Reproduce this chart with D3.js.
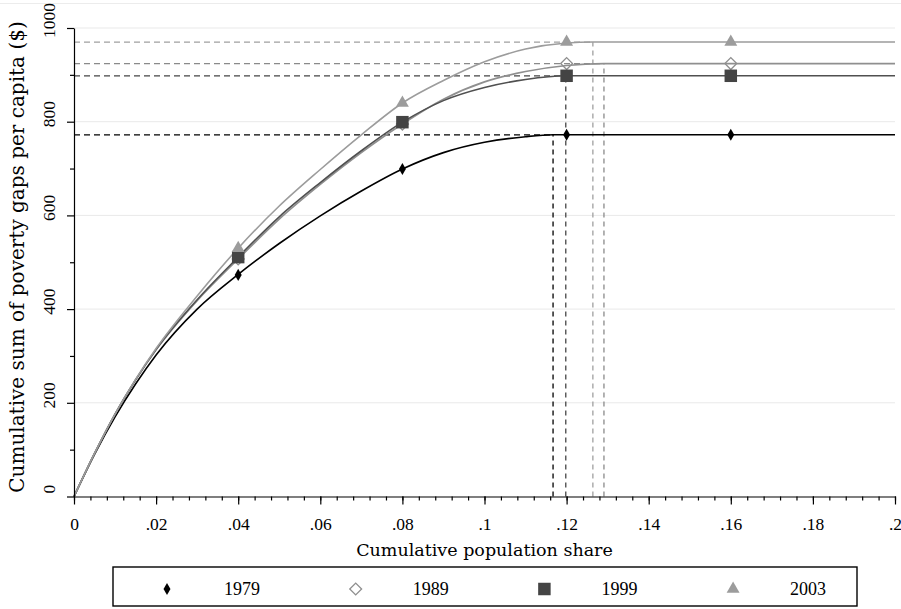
<!DOCTYPE html>
<html>
<head>
<meta charset="utf-8">
<script src="https://cdn.jsdelivr.net/npm/d3@7"></script>
<style>
  body { margin: 0; background: #fff; }
  svg { display: block; background: #fff; }
</style>
</head>
<body>
<svg class="tip-svg" width="901" height="609"></svg>
<script>
// TIP curves, one per year
const years = ['1979', '1989', '1999', '2003']
const curveShares = [0, 0.005, 0.01, 0.015, 0.02, 0.03, 0.04, 0.05, 0.06, 0.07, 0.08, 0.09, 0.1, 0.11, 0.12]
const gaps1979 = [0, 90, 170, 240, 302, 400, 474, 540, 599, 652, 699, 734, 756, 768, 772]
const gaps1989 = [0, 92, 176, 249, 313, 418, 507, 592, 666, 734, 795, 848, 885, 907, 920]
const gaps1999 = [0, 92, 176, 249, 314, 420, 511, 597, 670, 738, 799, 845, 873, 890, 898]
const gaps2003 = [0, 92, 176, 250, 316, 428, 530, 620, 698, 772, 840, 888, 928, 955, 968]
const headcounts = [0.1167, 0.1291, 0.1198, 0.1264]
const maxGaps = [772, 924, 898, 970]

const markerShares = [0.04, 0.08, 0.12, 0.16]
const markers1979 = [473, 699, 772, 772]
const markers1989 = [507, 795, 924, 924]
const markers1999 = [511, 799, 898, 898]
const markers2003 = [530, 840, 970, 970]

const xTicks = [0, 0.02, 0.04, 0.06, 0.08, 0.1, 0.12, 0.14, 0.16, 0.18, 0.2]
const xTickLabels = ['0', '.02', '.04', '.06', '.08', '.1', '.12', '.14', '.16', '.18', '.2']
const yTicks = [0, 200, 400, 600, 800, 1000]
const yTickLabels = ['0', '200', '400', '600', '800', '1000']

const allGaps = [gaps1979, gaps1989, gaps1999, gaps2003]
const allMarkers = [markers1979, markers1989, markers1999, markers2003]

// look of each year: line colour, dash colour, marker
const styles = [
  { line: '#000000', dash: '#000000', fill: '#000000', stroke: 'none', symbol: d3.symbolDiamond, size: 42, rotate: 0 },
  { line: '#8f8f8f', dash: '#8a8a8a', fill: 'none', stroke: '#8f8f8f', symbol: d3.symbolSquare, size: 70, rotate: 45 },
  { line: '#505050', dash: '#454545', fill: '#444444', stroke: 'none', symbol: d3.symbolSquare, size: 156, rotate: 0 },
  { line: '#9c9c9c', dash: '#a0a0a0', fill: '#9c9c9c', stroke: 'none', symbol: d3.symbolTriangle, size: 72, rotate: 0 }
]

const serif = "'Liberation Serif', 'Times New Roman', serif"
const titleFont = "'DejaVu Serif', serif"

const svg = d3.select('.tip-svg')
const x = d3.scaleLinear().domain([0, 0.2]).range([74, 895])
const y = d3.scaleLinear().domain([0, 1000]).range([496.5, 28])

/**
 * Light grid and the outer frame line at the top.
 */
function drawGrid () {
  svg.append('line')
    .attr('x1', 0).attr('x2', 901)
    .attr('y1', 3.5).attr('y2', 3.5)
    .attr('stroke', '#ececec')

  svg.append('g')
    .selectAll('line')
    .data(yTicks.slice(1))
    .enter()
    .append('line')
    .attr('x1', x(0))
    .attr('x2', x(0.2))
    .attr('y1', d => y(d))
    .attr('y2', d => y(d))
    .attr('stroke', '#e9e9e9')
    .attr('stroke-width', 1)
}

function drawAxes () {
  // minor ticks first
  const xMinor = svg.append('g')
    .attr('transform', `translate(0, ${y(0)})`)
    .call(d3.axisBottom(x).tickValues(d3.range(0, 0.2001, 0.004)).tickSize(4).tickFormat(''))
  xMinor.select('.domain').remove()

  const yMinor = svg.append('g')
    .attr('transform', `translate(${x(0)}, 0)`)
    .call(d3.axisLeft(y).tickValues([100, 300, 500, 700, 900]).tickSize(4).tickFormat(''))
  yMinor.select('.domain').remove()

  const xAxis = svg.append('g')
    .attr('transform', `translate(0, ${y(0)})`)
    .call(d3.axisBottom(x).tickValues(xTicks).tickSize(8).tickSizeOuter(0)
      .tickFormat((d, i) => xTickLabels[i]))
  xAxis.selectAll('text')
    .attr('y', 33)
    .attr('dy', 0)
    .style('font-family', serif)
    .style('font-size', '17.5px')
    .attr('fill', '#000')

  const yAxis = svg.append('g')
    .attr('transform', `translate(${x(0)}, 0)`)
    .call(d3.axisLeft(y).tickValues(yTicks).tickSize(7).tickSizeOuter(0)
      .tickFormat((d, i) => yTickLabels[i]))
  yAxis.selectAll('text')
    .attr('x', 0)
    .attr('dy', 0)
    .attr('text-anchor', 'middle')
    .attr('transform', 'translate(-19, -8) rotate(-90)')
    .style('font-family', serif)
    .style('font-size', '17.5px')
    .attr('fill', '#000')

  svg.selectAll('.domain, .tick line')
    .attr('stroke', '#000')
    .attr('stroke-width', 1.2)

  svg.append('text')
    .attr('x', (x(0) + x(0.2)) / 2)
    .attr('y', 556)
    .attr('text-anchor', 'middle')
    .style('font-family', titleFont)
    .style('font-size', '17.5px')
    .text('Cumulative population share')

  svg.append('text')
    .attr('transform', 'translate(24, 257) rotate(-90)')
    .attr('text-anchor', 'middle')
    .style('font-family', titleFont)
    .style('font-size', '20px')
    .text('Cumulative sum of poverty gaps per capita ($)')
}

/**
 * Dashed guides: level of each curve and its headcount share.
 */
function drawGuides () {
  const g = svg.append('g').attr('class', 'guides')
  years.forEach(function (year, i) {
    g.append('line')
      .attr('x1', x(0)).attr('x2', x(headcounts[i]))
      .attr('y1', y(maxGaps[i])).attr('y2', y(maxGaps[i]))
      .attr('stroke', styles[i].dash)
      .attr('stroke-width', 1.3)
      .attr('stroke-dasharray', '6,4')
    g.append('line')
      .attr('x1', x(headcounts[i])).attr('x2', x(headcounts[i]))
      .attr('y1', y(0)).attr('y2', y(maxGaps[i]))
      .attr('stroke', styles[i].dash)
      .attr('stroke-width', 1.3)
      .attr('stroke-dasharray', '5,4')
  })
}

function drawCurves () {
  const line = d3.line()
    .x(d => x(d[0]))
    .y(d => y(d[1]))
    .curve(d3.curveMonotoneX)

  years.forEach(function (year, i) {
    const pts = curveShares
      .map((p, j) => [p, allGaps[i][j]])
      .filter(d => d[0] < headcounts[i])
    pts.push([headcounts[i], maxGaps[i]])
    pts.push([0.2, maxGaps[i]])

    svg.append('path')
      .datum(pts)
      .attr('d', line)
      .attr('fill', 'none')
      .attr('stroke', styles[i].line)
      .attr('stroke-width', 1.6)
  })
}

function symbolPath (i) {
  return d3.symbol().type(styles[i].symbol).size(styles[i].size)()
}

function drawMarkers () {
  years.forEach(function (year, i) {
    svg.append('g')
      .selectAll('path')
      .data(markerShares.map((p, j) => [p, allMarkers[i][j]]))
      .enter()
      .append('path')
      .attr('d', symbolPath(i))
      .attr('transform', d => `translate(${x(d[0])}, ${y(d[1])}) rotate(${styles[i].rotate})`)
      .attr('fill', styles[i].fill)
      .attr('stroke', styles[i].stroke)
      .attr('stroke-width', 1.3)
  })
}

/**
 * Boxed legend below the plot.
 */
function drawLegend () {
  svg.append('rect')
    .attr('x', 113)
    .attr('y', 567)
    .attr('width', 744)
    .attr('height', 39)
    .attr('fill', '#fff')
    .attr('stroke', '#000')
    .attr('stroke-width', 1.4)

  const legend = svg.append('g')
    .selectAll('.legend')
    .data(years)
    .enter()
    .append('g')
    .attr('class', 'legend')
    .attr('transform', (d, i) => `translate(${167 + i * 188.7}, 589)`)

  legend.append('path')
    .attr('d', (d, i) => symbolPath(i))
    .attr('transform', (d, i) => `rotate(${styles[i].rotate})`)
    .attr('fill', (d, i) => styles[i].fill)
    .attr('stroke', (d, i) => styles[i].stroke)
    .attr('stroke-width', 1.3)

  legend.append('text')
    .attr('x', 57)
    .attr('y', 6)
    .style('font-family', serif)
    .style('font-size', '18px')
    .text(d => d)
}

drawGrid()
drawGuides()
drawCurves()
drawMarkers()
drawAxes()
drawLegend()
</script>
</body>
</html>
